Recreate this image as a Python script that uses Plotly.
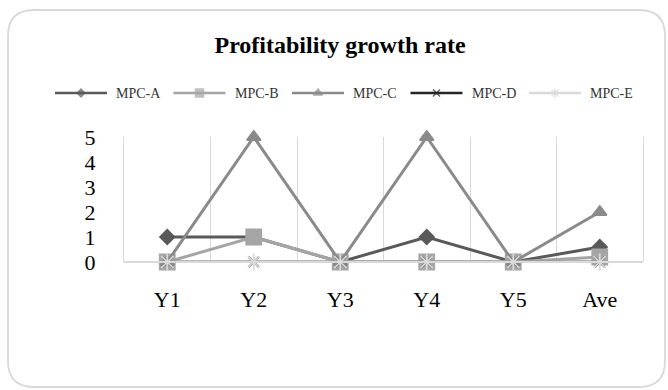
import plotly.graph_objects as go

# Categories and series values
years = ["Y1", "Y2", "Y3", "Y4", "Y5", "Ave"]
mpc_a = [1, 1, 0, 1, 0, 0.6]
mpc_b = [0, 1, 0, 0, 0, 0.2]
mpc_c = [0, 5, 0, 5, 0, 2]
mpc_d = [0, 0, 0, 0, 0, 0]
mpc_e = [0, 0, 0, 0, 0, 0]
y_ticks = [0, 1, 2, 3, 4, 5]
names = ["MPC-A", "MPC-B", "MPC-C", "MPC-D", "MPC-E"]
values = [mpc_a, mpc_b, mpc_c, mpc_d, mpc_e]

# per-series style: colour, symbol, plot marker size, legend marker size
styles = [
    ("#595959", "diamond", 11, 6),
    ("#a5a5a5", "square", 15, 8),
    ("#8a8a8a", "triangle-up", 12, 8),
    ("#262626", "x-thin", 10, 7),
    ("#d9d9d9", "asterisk", 14, 8),
]

W, H = 668, 390
# plot area in pixels
PX0, PX1, PY0, PY1 = 124, 643, 137, 262

fig = go.Figure()
for name, vals, (color, sym, size, lsize) in zip(names, values, styles):
    fig.add_trace(go.Scatter(
        x=years, y=vals, name=name, mode="lines+markers",
        line=dict(color=color, width=3),
        marker=dict(symbol=sym, size=size, color=color,
                    line=dict(color=color, width=1.8)),
        cliponaxis=False, showlegend=False,
    ))

# legend row drawn on a pixel-space overlay axis
LEG_X0, LEG_STEP, LEG_LINE, LEG_Y = 55, 118.5, 52, 93
for i, (name, (color, sym, size, lsize)) in enumerate(zip(names, styles)):
    lx = LEG_X0 + i * LEG_STEP
    fig.add_trace(go.Scatter(
        x=[lx, lx + LEG_LINE / 2, lx + LEG_LINE], y=[LEG_Y] * 3,
        xaxis="x2", yaxis="y2", mode="lines+markers", showlegend=False,
        hoverinfo="skip",
        line=dict(color=color, width=2.5),
        marker=dict(symbol=sym, size=[0, lsize, 0], color=color,
                    line=dict(color=color, width=1.5)),
        cliponaxis=False,
    ))
    fig.add_annotation(x=lx + LEG_LINE + 7, y=LEG_Y, xref="x2", yref="y2",
                       text=name, showarrow=False, xanchor="left", yanchor="middle",
                       font=dict(size=14, color="#333333"))

# rounded border around the whole chart (paper == full canvas)
def px(x):
    return x / W
def py(y):
    return 1 - y / H
x0, x1, y0, y1, r = 8, 665, 10, 387, 26
path = (f"M {px(x0 + r)} {py(y0)} L {px(x1 - r)} {py(y0)} "
        f"Q {px(x1)} {py(y0)} {px(x1)} {py(y0 + r)} "
        f"L {px(x1)} {py(y1 - r)} Q {px(x1)} {py(y1)} {px(x1 - r)} {py(y1)} "
        f"L {px(x0 + r)} {py(y1)} Q {px(x0)} {py(y1)} {px(x0)} {py(y1 - r)} "
        f"L {px(x0)} {py(y0 + r)} Q {px(x0)} {py(y0)} {px(x0 + r)} {py(y0)} Z")
fig.add_shape(type="path", path=path, xref="paper", yref="paper",
              line=dict(color="#d9d9d9", width=1.8), layer="below")

fig.update_layout(
    width=W, height=H,
    margin=dict(l=0, r=0, t=0, b=0, autoexpand=False),
    paper_bgcolor="white", plot_bgcolor="rgba(0,0,0,0)",
    font=dict(family="Liberation Serif, Times New Roman, serif", color="#000000"),
    title=dict(text="<b>Profitability growth rate</b>", x=340 / W, xanchor="center",
               xref="container", y=1 - 45 / H, yanchor="middle", yref="container",
               font=dict(size=24, color="#000000")),
    showlegend=False,
    xaxis=dict(type="category", range=[-0.5, 5.5], tickson="boundaries",
               domain=[PX0 / W, PX1 / W], anchor="y",
               showgrid=True, gridcolor="#d9d9d9", gridwidth=1,
               ticks="", showline=False, zeroline=False,
               tickfont=dict(size=22, color="#000000"), ticklabelstandoff=22),
    yaxis=dict(range=[0, 5], tickvals=y_ticks, domain=[1 - PY1 / H, 1 - PY0 / H],
               anchor="x", showgrid=False, zeroline=True,
               zerolinecolor="#d9d9d9", zerolinewidth=1.5,
               showline=True, mirror=True, linecolor="#d9d9d9", linewidth=1,
               ticks="",
               tickfont=dict(size=22, color="#000000"), ticklabelstandoff=23),
    xaxis2=dict(domain=[0, 1], range=[0, W], anchor="y2", visible=False,
                fixedrange=True),
    yaxis2=dict(domain=[0, 1], range=[H, 0], anchor="x2", visible=False,
                fixedrange=True),
)

fig.write_html("out.html")
